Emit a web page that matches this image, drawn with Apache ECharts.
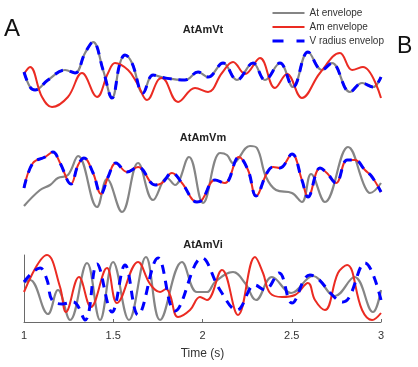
<!DOCTYPE html>
<html>
<head>
<meta charset="utf-8">
<script src="https://cdn.jsdelivr.net/npm/echarts@6/dist/echarts.min.js"></script>
<style>html,body{margin:0;padding:0;background:#fff;}#c{width:418px;height:367px;}</style>
</head>
<body>
<div id="c"></div>
<script>
// Panel titles and legend names
const panelTitles = ['AtAmVt', 'AtAmVm', 'AtAmVi'];
const seriesNames = ['At envelope', 'Am envelope', 'V radius envelope'];
const xTickLabels = ['1', '1.5', '2', '2.5', '3'];

// Panel 1 (AtAmVt): time (s) and envelope values (arbitrary units)
const t1At = [1.000,1.034,1.062,1.134,1.230,1.286,1.342,1.387,1.443,1.493,1.538,1.566,1.605,1.667,1.723,1.790,1.902,1.975,2.031,2.115,2.193,2.283,2.350,2.434,2.507,2.591,2.669,2.725,2.826,2.894,2.955,3.000];
const v1At = [40,25,22,32,42,39,59,70,42,14,49,57,49,19,37,34,32,40,35,49,32,49,32,49,25,60,42,49,20,29,25,35];
const t1Am = [1.000,1.034,1.101,1.157,1.246,1.325,1.409,1.471,1.510,1.583,1.633,1.689,1.751,1.773,1.863,1.958,2.031,2.109,2.171,2.238,2.322,2.406,2.473,2.557,2.658,2.770,2.838,2.899,3.000];
const v1Am = [38,45,15,5,15,39,15,39,49,42,29,12,32,34,10,24,20,39,50,38,54,24,38,14,39,59,42,45,14];
// V radius envelope in panel 1 coincides with the At envelope
const t1V = t1At;
const v1V = v1At;

// Panel 2 (AtAmVm)
const t2At = [1.000,1.090,1.146,1.190,1.246,1.303,1.409,1.465,1.549,1.639,1.723,1.801,1.846,1.924,2.003,2.098,2.137,2.171,2.266,2.305,2.356,2.412,2.501,2.557,2.608,2.686,2.815,2.910,2.938,3.000];
const v2At = [11,27,32,39,42,61,10,38,5,54,17,39,32,60,14,64,62,54,71,69,40,27,24,15,43,15,70,30,24,34];
const t2Am = [1.000,1.050,1.118,1.162,1.202,1.263,1.303,1.336,1.387,1.431,1.471,1.515,1.577,1.639,1.734,1.773,1.829,1.885,1.969,1.997,2.070,2.126,2.204,2.255,2.300,2.361,2.395,2.434,2.501,2.557,2.591,2.658,2.697,2.748,2.810,2.854,2.910,2.950,3.000];
const v2Am = [29,54,60,65,54,33,52,59,44,23,40,54,45,50,32,34,44,34,15,17,37,34,60,47,21,44,50,49,63,37,20,49,44,34,57,57,47,40,25];
// V radius envelope in panel 2 coincides with the Am envelope
const t2V = t2Am;
const v2V = v2Am;

// Panel 3 (AtAmVi)
const t3At = [1.000,1.034,1.134,1.190,1.258,1.353,1.426,1.499,1.588,1.683,1.762,1.885,1.969,2.025,2.070,2.171,2.238,2.300,2.389,2.496,2.619,2.742,2.852,2.955,3.000];
const v3At = [39,42,8,32,2,59,2,60,2,65,2,60,30,30,40,50,39,22,45,29,46,26,45,10,32];
const t3Am = [1.000,1.129,1.202,1.235,1.308,1.375,1.465,1.521,1.639,1.706,1.762,1.796,1.818,1.863,1.930,1.986,2.025,2.109,2.199,2.294,2.339,2.378,2.445,2.518,2.591,2.630,2.686,2.759,2.810,2.894,2.950,3.000];
const v3Am = [30,67,35,10,45,15,54,19,60,38,30,33,27,5,12,25,22,52,7,65,49,29,25,27,39,22,12,49,57,12,2,9];
const t3V = [1.000,1.090,1.129,1.157,1.213,1.275,1.342,1.409,1.493,1.566,1.639,1.751,1.846,1.997,2.098,2.193,2.294,2.350,2.429,2.501,2.602,2.787,2.910,3.000];
const v3V = [40,54,42,22,18,20,2,58,10,57,7,64,11,64,32,12,37,32,49,19,47,20,59,22];

const zip = (t, v) => t.map((x, i) => [x, v[i]]);

const GRAY = '#858585', RED = '#eb2b22', BLUE = '#0000ff';
const FONT = 'Liberation Sans, Arial, sans-serif';

const panels = [
  [t1At, v1At, t1Am, v1Am, t1V, v1V],
  [t2At, v2At, t2Am, v2Am, t2V, v2V],
  [t3At, v3At, t3Am, v3Am, t3V, v3V]
];
const gridTops = [37, 142, 255];
const gridHeights = [75, 75, 67];
const yMax = [75, 75, 67];

const grids = gridTops.map((top, i) => ({ left: 24, width: 357, top: top, height: gridHeights[i] }));

const xAxes = panels.map((p, i) => {
  const last = i === 2;
  return {
    type: 'value', gridIndex: i, min: 1, max: 3, interval: 0.5,
    show: last,
    axisLine: { show: last, onZero: false, lineStyle: { color: '#6a6a6a', width: 1 } },
    axisTick: { show: last, inside: true, length: 3, lineStyle: { color: '#6a6a6a' } },
    splitLine: { show: false },
    axisLabel: {
      show: last, margin: 8, fontSize: 11, color: '#333', fontFamily: FONT,
      formatter: v => xTickLabels[Math.round((v - 1) / 0.5)] || ''
    },
    name: last ? 'Time (s)' : '',
    nameLocation: 'middle', nameGap: 26,
    nameTextStyle: { fontSize: 12, color: '#333', fontFamily: FONT }
  };
});

const yAxes = panels.map((p, i) => {
  const last = i === 2;
  return {
    type: 'value', gridIndex: i, min: 0, max: yMax[i],
    show: last,
    axisLine: { show: last, lineStyle: { color: '#6a6a6a', width: 1 } },
    axisTick: { show: false }, axisLabel: { show: false }, splitLine: { show: false }
  };
});

const series = [];
panels.forEach((p, i) => {
  const common = { type: 'line', xAxisIndex: i, yAxisIndex: i, showSymbol: false, symbol: 'none', smooth: 0.4, animation: false };
  series.push(Object.assign({}, common, { name: seriesNames[0], data: zip(p[0], p[1]), lineStyle: { color: GRAY, width: 2.2 }, itemStyle: { color: GRAY }, z: 2 }));
  series.push(Object.assign({}, common, { name: seriesNames[1], data: zip(p[2], p[3]), lineStyle: { color: RED, width: 2 }, itemStyle: { color: RED }, z: 3 }));
  series.push(Object.assign({}, common, { name: seriesNames[2], data: zip(p[4], p[5]), lineStyle: { color: BLUE, width: 3, type: [9, 7] }, itemStyle: { color: BLUE }, z: 4 }));
});

const chart = echarts.init(document.getElementById('c'), null, { renderer: 'canvas' });
chart.setOption({
  animation: false,
  backgroundColor: '#fff',
  title: panelTitles.map((t, i) => ({
    text: t, left: 203, top: [24, 132, 239][i], textAlign: 'center', padding: 0,
    textStyle: { fontSize: 11, fontWeight: 'bold', color: '#222', fontFamily: FONT }
  })),
  legend: {
    orient: 'vertical', left: 271, top: 8, padding: 0,
    itemWidth: 32, itemHeight: 10, itemGap: 4,
    data: [
      { name: seriesNames[0] },
      { name: seriesNames[1] },
      { name: seriesNames[2], lineStyle: { type: [11, 13], width: 3 } }
    ],
    itemStyle: { opacity: 0 },
    textStyle: { fontSize: 10, color: '#333', fontFamily: FONT, width: 77, overflow: 'truncate', ellipsis: '' }
  },
  graphic: [
    { type: 'text', left: 4, top: 17, style: { text: 'A', fontSize: 24, fill: '#111', fontFamily: FONT } },
    { type: 'text', left: 397, top: 35, style: { text: 'B', fontSize: 23, fill: '#111', fontFamily: FONT } }
  ],
  grid: grids,
  xAxis: xAxes,
  yAxis: yAxes,
  series: series
});
</script>
</body>
</html>
